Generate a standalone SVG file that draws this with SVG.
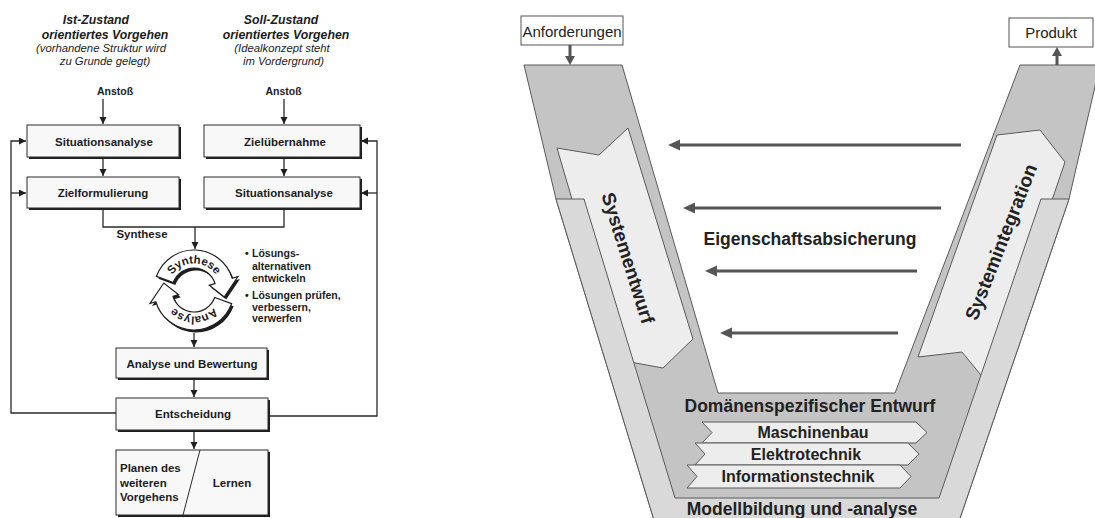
<svg xmlns="http://www.w3.org/2000/svg" width="1095" height="518" viewBox="0 0 1095 518">
  <defs>
    <style>
      text { font-family: "Liberation Sans", Arial, sans-serif; fill: #1c1c1c; }
      .hd { font-weight: bold; font-style: italic; font-size: 12.3px; text-anchor: middle; }
      .sub { font-style: italic; font-size: 11.3px; text-anchor: middle; }
      .lbl { font-weight: bold; font-size: 11.5px; text-anchor: middle; }
      .lbs { font-weight: bold; font-size: 11.5px; text-anchor: start; }
      .sm { font-weight: bold; font-size: 10.5px; }
      .smc { font-weight: bold; font-size: 10.5px; text-anchor: middle; }
      .cyc { font-weight: bold; font-size: 11.5px; }
      .box { fill: #f8f8f8; stroke: #2a2a2a; stroke-width: 1; }
      .shd { fill: #1e1e1e; }
      .ln { fill: none; stroke: #2a2a2a; stroke-width: 1.3; }
      .ring { fill: #ffffff; stroke: #1e1e1e; stroke-width: 1.2; }
      .vdark { fill: #c4c4c4; stroke: #5a5a5a; stroke-width: 1; }
      .vband { fill: #d9d9d9; stroke: #5a5a5a; stroke-width: 1; }
      .phase { fill: #ededed; stroke: #5a5a5a; stroke-width: 1; }
      .tag { fill: #ffffff; stroke: #555555; stroke-width: 1; }
      .tagt { font-size: 15px; text-anchor: middle; fill: #222; }
      .big { font-weight: bold; font-size: 17.5px; text-anchor: middle; fill: #222; }
      .dom { font-weight: bold; font-size: 16px; text-anchor: middle; fill: #222; }
      .rot { font-weight: bold; font-size: 19px; text-anchor: middle; fill: #222; }
      .va { fill: none; stroke: #555555; stroke-width: 3; }
    </style>
    <marker id="ah" markerUnits="userSpaceOnUse" markerWidth="8" markerHeight="8" refX="7" refY="3.5" orient="auto">
      <path d="M0,0 L7,3.5 L0,7 z" fill="#1e1e1e"/>
    </marker>
    <marker id="ahv" markerUnits="userSpaceOnUse" markerWidth="14" markerHeight="12" refX="2" refY="5.5" orient="auto">
      <path d="M0,0 L12,5.5 L0,11 z" fill="#555555"/>
    </marker>
    <marker id="ahs" markerUnits="userSpaceOnUse" markerWidth="12" markerHeight="12" refX="2" refY="5" orient="auto">
      <path d="M0,0 L9,5 L0,10 z" fill="#555555"/>
    </marker>
    <!-- text baselines for the cycle labels, radius 26.5 around (194,290) -->
    <path id="arcSyn" d="M169.98,278.80 A26.5,26.5 0 0 1 218.02,278.80"/>
    <path id="arcAna" d="M218.02,301.20 A26.5,26.5 0 0 1 169.98,301.20"/>
    <path id="pSyn" d="M156.41,276.32 A40,40 0 0 1 232.25,278.30 L237.99,276.55 L224.21,296.97 L209.30,285.32 L215.04,283.57 A22,22 0 0 0 173.33,282.48 Z"/>
    <path id="pAna" d="M231.59,303.68 A40,40 0 0 1 155.75,301.70 L150.01,303.45 L163.79,283.03 L178.70,294.68 L172.96,296.43 A22,22 0 0 0 214.67,297.52 Z"/>
  </defs>

  <rect width="1095" height="518" fill="#ffffff"/>

  <!-- ===== Left: problem-solving cycle ===== -->
  <g id="headings">
    <text class="hd" x="96" y="24">Ist-Zustand</text>
    <text class="hd" x="105" y="39">orientiertes Vorgehen</text>
    <text class="sub" x="101" y="52">(vorhandene Struktur wird</text>
    <text class="sub" x="105" y="65">zu Grunde gelegt)</text>
    <text class="hd" x="281" y="24">Soll-Zustand</text>
    <text class="hd" x="286" y="39">orientiertes Vorgehen</text>
    <text class="sub" x="282" y="52">(Idealkonzept steht</text>
    <text class="sub" x="283.5" y="65">im Vordergrund)</text>
  </g>

  <g id="anstoss-left"><text class="smc" x="115" y="95">Anstoß</text></g>
  <g id="anstoss-right"><text class="smc" x="283.5" y="95">Anstoß</text></g>

  <g id="situationsanalyse-1">
    <rect class="shd" x="29" y="127" width="152" height="32"/>
    <rect class="box" x="27" y="125" width="152" height="32"/>
    <text class="lbl" x="104" y="146">Situationsanalyse</text>
  </g>
  <g id="zieluebernahme">
    <rect class="shd" x="206" y="127" width="156" height="32"/>
    <rect class="box" x="204" y="125" width="156" height="32"/>
    <text class="lbl" x="285" y="146">Zielübernahme</text>
  </g>
  <g id="zielformulierung">
    <rect class="shd" x="29" y="179" width="152" height="31"/>
    <rect class="box" x="27" y="177" width="152" height="31"/>
    <text class="lbl" x="103" y="197">Zielformulierung</text>
  </g>
  <g id="situationsanalyse-2">
    <rect class="shd" x="206" y="179" width="156" height="31"/>
    <rect class="box" x="204" y="177" width="156" height="31"/>
    <text class="lbl" x="284" y="197">Situationsanalyse</text>
  </g>

  <g id="synthese-label"><text class="lbl" x="142" y="238">Synthese</text></g>

  <g id="cycle">
    <use href="#pSyn" transform="translate(2,2.5)" class="shd"/>
    <use href="#pAna" transform="translate(2,2.5)" class="shd"/>
    <use href="#pSyn" class="ring"/>
    <use href="#pAna" class="ring"/>
    <text class="cyc"><textPath href="#arcSyn" startOffset="50%" text-anchor="middle">Synthese</textPath></text>
    <text class="cyc"><textPath href="#arcAna" startOffset="50%" text-anchor="middle">Analyse</textPath></text>
  </g>

  <g id="cycle-notes">
    <text class="sm" x="245" y="257">•</text>
    <text class="sm" x="252" y="257">Lösungs-</text>
    <text class="sm" x="252" y="270">alternativen</text>
    <text class="sm" x="252" y="282">entwickeln</text>
    <text class="sm" x="245" y="299">•</text>
    <text class="sm" x="252" y="299">Lösungen prüfen,</text>
    <text class="sm" x="252" y="310.5">verbessern,</text>
    <text class="sm" x="252" y="322">verwerfen</text>
  </g>

  <g id="analyse-bewertung">
    <rect class="shd" x="118" y="350" width="151" height="30"/>
    <rect class="box" x="116" y="348" width="151" height="30"/>
    <text class="lbl" x="192" y="368">Analyse und Bewertung</text>
  </g>
  <g id="entscheidung">
    <rect class="shd" x="118" y="400" width="152" height="32"/>
    <rect class="box" x="116" y="398" width="152" height="32"/>
    <text class="lbl" x="193" y="418">Entscheidung</text>
  </g>
  <g id="planen-lernen">
    <rect class="shd" x="118" y="452" width="152" height="65"/>
    <rect class="box" x="116" y="450" width="152" height="65"/>
    <line x1="200" y1="450" x2="183" y2="515" stroke="#2a2a2a" stroke-width="1"/>
    <text class="lbs" x="120" y="472">Planen des</text>
    <text class="lbs" x="120" y="486.5">weiteren</text>
    <text class="lbs" x="120" y="501">Vorgehens</text>
    <text class="lbl" x="232" y="487">Lernen</text>
  </g>

  <g id="connectors-left">
    <line class="ln" x1="103" y1="99" x2="103" y2="124" marker-end="url(#ah)"/>
    <line class="ln" x1="284" y1="99" x2="284" y2="124" marker-end="url(#ah)"/>
    <line class="ln" x1="103" y1="157" x2="103" y2="176" marker-end="url(#ah)"/>
    <line class="ln" x1="284" y1="157" x2="284" y2="176" marker-end="url(#ah)"/>
    <polyline class="ln" points="103,210 103,227 284,227 284,210"/>
    <line class="ln" x1="195" y1="227" x2="195" y2="249" marker-end="url(#ah)"/>
    <line class="ln" x1="194" y1="333" x2="194" y2="347" marker-end="url(#ah)"/>
    <line class="ln" x1="194" y1="380" x2="194" y2="397" marker-end="url(#ah)"/>
    <line class="ln" x1="194" y1="432" x2="194" y2="449" marker-end="url(#ah)"/>
    <polyline class="ln" points="116,413 11,413 11,141 26,141" marker-end="url(#ah)"/>
    <line class="ln" x1="11" y1="193" x2="26" y2="193" marker-end="url(#ah)"/>
    <polyline class="ln" points="270,416 377,416 377,141 361,141" marker-end="url(#ah)"/>
    <line class="ln" x1="377" y1="193" x2="361" y2="193" marker-end="url(#ah)"/>
  </g>

  <!-- ===== Right: V-model ===== -->
  <g id="v-core">
    <polygon class="vdark" points="524,65 622,65 718,393 895,393 1020,65 1100,65 1069,199 956,530 657,530 556,199"/>
  </g>
  <g id="systementwurf">
    <polygon class="phase" points="557,148 599,155 628,128 693,339 663,368 619,360"/>
    <text class="rot" transform="translate(628,258) rotate(72.5)" dy="0.35em">Systementwurf</text>
  </g>
  <g id="systemintegration">
    <polygon class="phase" points="997,135 1040,130 1065,162 989,385 962,352 918,357"/>
    <text class="rot" transform="translate(1001,242) rotate(-68.5)" dy="0.35em">Systemintegration</text>
  </g>
  <g id="modellbildung">
    <polygon class="vband" points="556,199 584,199 675,498 939,498 1041,199 1069,199 956,530 657,530"/>
    <text class="big" x="802" y="514.5">Modellbildung und -analyse</text>
  </g>

  <g id="domaenen">
    <text class="big" x="810" y="412">Domänenspezifischer Entwurf</text>
    <g id="maschinenbau">
      <polygon class="phase" points="702,422 916,422 927,432.5 916,443 702,443 712,432.5"/>
      <text class="dom" x="813" y="438">Maschinenbau</text>
    </g>
    <g id="elektrotechnik">
      <polygon class="phase" points="695,443 908,443 919,454 908,465 695,465 705,454"/>
      <text class="dom" x="806" y="459.5">Elektrotechnik</text>
    </g>
    <g id="informationstechnik">
      <polygon class="phase" points="687,465 900,465 911,476.5 900,488 687,488 697,476.5"/>
      <text class="dom" x="798" y="482">Informationstechnik</text>
    </g>
  </g>

  <g id="anforderungen">
    <rect class="tag" x="521" y="16" width="102" height="29"/>
    <text class="tagt" x="572" y="36.5">Anforderungen</text>
  </g>
  <g id="produkt">
    <rect class="tag" x="1009" y="18" width="84" height="29"/>
    <text class="tagt" x="1051" y="38">Produkt</text>
  </g>

  <g id="eigenschaftsabsicherung">
    <text class="big" x="810" y="245">Eigenschaftsabsicherung</text>
  </g>

  <g id="connectors-right">
    <line class="va" x1="961" y1="145" x2="678" y2="145" marker-end="url(#ahv)"/>
    <line class="va" x1="941" y1="208" x2="693" y2="208" marker-end="url(#ahv)"/>
    <line class="va" x1="917" y1="271" x2="715" y2="271" marker-end="url(#ahv)"/>
    <line class="va" x1="898" y1="333" x2="730" y2="333" marker-end="url(#ahv)"/>
    <line class="va" x1="570" y1="45" x2="570" y2="58" marker-end="url(#ahs)"/>
    <line class="va" x1="1057" y1="65" x2="1057" y2="54" marker-end="url(#ahs)"/>
  </g>
</svg>
